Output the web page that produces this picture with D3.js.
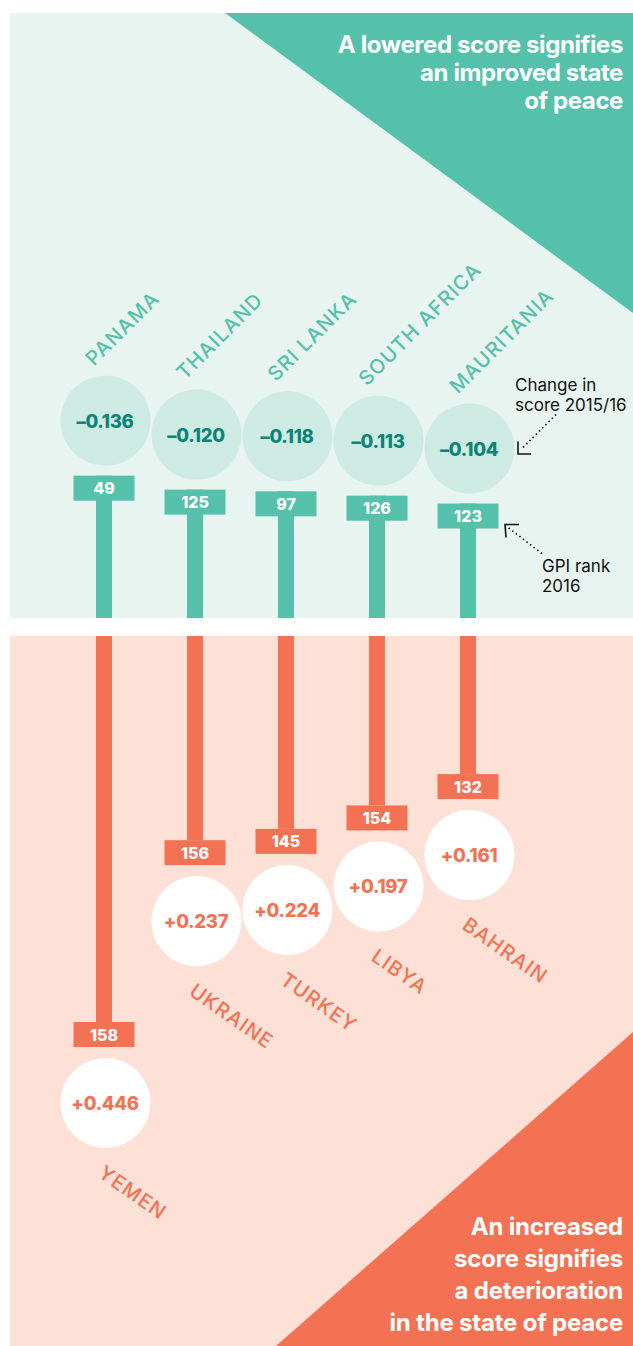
<!DOCTYPE html>
<html>
<head>
<meta charset="utf-8">
<script src="https://cdn.jsdelivr.net/npm/d3@7"></script>
<style>
  body { margin: 0; background: #fff; }
  svg { display: block; }
  text { font-family: Inter, 'Noto Sans', sans-serif; }
</style>
</head>
<body>
<div class="svg-container"></div>
<script>
// countries whose score went down (improved)
const improvedNames = ['PANAMA', 'THAILAND', 'SRI LANKA', 'SOUTH AFRICA', 'MAURITANIA'];
const improvedChange = [-0.136, -0.120, -0.118, -0.113, -0.104];
const improvedRank = [49, 125, 97, 126, 123];

// countries whose score went up (deteriorated)
const worsenedNames = ['YEMEN', 'UKRAINE', 'TURKEY', 'LIBYA', 'BAHRAIN'];
const worsenedChange = [0.446, 0.237, 0.224, 0.197, 0.161];
const worsenedRank = [158, 156, 145, 154, 132];

const topNote = ['A lowered score signifies', 'an improved state', 'of peace'];
const bottomNote = ['An increased', 'score signifies', 'a deterioration', 'in the state of peace'];

function renderPeaceChart() {
  const width = 633;
  const height = 1346;
  const teal = '#55c1aa';
  const mint = '#e7f4ef';
  const orange = '#f37254';
  const peach = '#fde1d6';

  const topPanel = { x: 10, y: 13, bottom: 618 };
  const bottomPanel = { y: 636 };
  const midY = 627;
  const r = 45;
  const boxW = 61;
  const boxH = 25;
  const stemW = 16;

  const x = d3.scalePoint().domain(d3.range(5)).range([104, 468]);
  const dist = d3.scaleLinear().domain([0, 0.5]).range([88, 523]);

  const fmt = (v) => (v < 0 ? '\u2013' : '+') + d3.format('.3f')(Math.abs(v));

  const svg = d3.select('.svg-container')
    .append('svg')
    .attr('width', width)
    .attr('height', height);

  // panels
  svg.append('rect')
    .attr('x', topPanel.x).attr('y', topPanel.y)
    .attr('width', width - topPanel.x).attr('height', topPanel.bottom - topPanel.y)
    .attr('fill', mint);
  svg.append('path')
    .attr('d', `M225,${topPanel.y}L${width},${topPanel.y}L${width},313Z`)
    .attr('fill', teal);

  svg.append('rect')
    .attr('x', topPanel.x).attr('y', bottomPanel.y)
    .attr('width', width - topPanel.x).attr('height', height - bottomPanel.y)
    .attr('fill', peach);
  svg.append('path')
    .attr('d', `M${width},1032L${width},${height}L276,${height}Z`)
    .attr('fill', orange);

  // corner notes
  svg.append('g').selectAll('text')
    .data(topNote).enter().append('text')
    .attr('x', 623).attr('y', (d, i) => 53 + i * 28)
    .attr('text-anchor', 'end')
    .style('font-weight', 700).style('font-size', '24px')
    .style('letter-spacing', '-0.4px')
    .attr('fill', '#fff')
    .text((d) => d);

  svg.append('g').selectAll('text')
    .data(bottomNote).enter().append('text')
    .attr('x', 623).attr('y', (d, i) => 1235 + i * 32)
    .attr('text-anchor', 'end')
    .style('font-weight', 700).style('font-size', '24px')
    .style('letter-spacing', '-0.2px')
    .attr('fill', '#fff')
    .text((d) => d);

  // improved: circles above the middle line
  const improved = improvedNames.map((name, i) => ({
    name, change: improvedChange[i], rank: improvedRank[i], i
  }));
  const up = svg.append('g').selectAll('g')
    .data(improved).enter().append('g');

  up.each(function (d) {
    d.cx = x(d.i);
    d.cy = midY - dist(Math.abs(d.change));
    d.boxY = d.cy + r + 10;
  });

  up.append('rect')
    .attr('x', (d) => d.cx - stemW / 2)
    .attr('y', (d) => d.boxY)
    .attr('width', stemW)
    .attr('height', (d) => topPanel.bottom - d.boxY)
    .attr('fill', teal);
  up.append('rect')
    .attr('x', (d) => d.cx - boxW / 2)
    .attr('y', (d) => d.boxY)
    .attr('width', boxW).attr('height', boxH)
    .attr('fill', teal);
  up.append('text')
    .attr('x', (d) => d.cx).attr('y', (d) => d.boxY + boxH / 2 + 6)
    .attr('text-anchor', 'middle')
    .style('font-weight', 800).style('font-size', '16px')
    .attr('fill', '#fff')
    .text((d) => d.rank);
  up.append('circle')
    .attr('cx', (d) => d.cx + 1.5).attr('cy', (d) => d.cy).attr('r', r)
    .attr('fill', '#cdebe2');
  up.append('text')
    .attr('x', (d) => d.cx + 1).attr('y', (d) => d.cy + 7)
    .attr('text-anchor', 'middle')
    .style('font-weight', 800).style('font-size', '18.5px')
    .style('letter-spacing', '-0.3px')
    .attr('fill', '#0b8477')
    .text((d) => fmt(d.change));
  up.append('text')
    .attr('transform', (d) => `translate(${d.cx - 10},${d.cy - r - 9}) rotate(-45)`)
    .style('font-size', '20px')
    .style('font-weight', 500)
    .style('letter-spacing', '1.2px')
    .attr('fill', teal)
    .text((d) => d.name);

  // worsened: circles below the middle line
  const worsened = worsenedNames.map((name, i) => ({
    name, change: worsenedChange[i], rank: worsenedRank[i], i
  }));
  const down = svg.append('g').selectAll('g')
    .data(worsened).enter().append('g');

  down.each(function (d) {
    d.cx = x(d.i);
    d.cy = midY + dist(d.change);
    d.boxY = d.cy - r - 11 - boxH;
  });

  down.append('rect')
    .attr('x', (d) => d.cx - stemW / 2)
    .attr('y', bottomPanel.y)
    .attr('width', stemW)
    .attr('height', (d) => d.boxY - bottomPanel.y)
    .attr('fill', orange);
  down.append('rect')
    .attr('x', (d) => d.cx - boxW / 2)
    .attr('y', (d) => d.boxY)
    .attr('width', boxW).attr('height', boxH)
    .attr('fill', orange);
  down.append('text')
    .attr('x', (d) => d.cx).attr('y', (d) => d.boxY + boxH / 2 + 6)
    .attr('text-anchor', 'middle')
    .style('font-weight', 800).style('font-size', '16px')
    .attr('fill', '#fff')
    .text((d) => d.rank);
  down.append('circle')
    .attr('cx', (d) => d.cx + 1.5).attr('cy', (d) => d.cy).attr('r', r)
    .attr('fill', '#fff');
  down.append('text')
    .attr('x', (d) => d.cx + 1).attr('y', (d) => d.cy + 7)
    .attr('text-anchor', 'middle')
    .style('font-weight', 800).style('font-size', '18.5px')
    .style('letter-spacing', '-0.3px')
    .attr('fill', orange)
    .text((d) => fmt(d.change));
  down.append('text')
    .attr('transform', (d) => `translate(${d.cx - 7},${d.cy + r + 28}) rotate(35)`)
    .style('font-size', '20px')
    .style('font-weight', 500)
    .style('letter-spacing', '1.2px')
    .attr('fill', orange)
    .text((d) => d.name);

  // key annotations, hung off the last improved country
  const last = improved[improved.length - 1];
  const ann = svg.append('g')
    .style('font-size', '17px')
    .attr('fill', '#111');

  ann.selectAll('text.change')
    .data(['Change in', 'score 2015/16']).enter().append('text')
    .attr('class', 'change')
    .attr('x', last.cx + 47).attr('y', (d, i) => last.cy - 58 + i * 20)
    .text((d) => d);
  ann.selectAll('text.rank')
    .data(['GPI rank', '2016']).enter().append('text')
    .attr('class', 'rank')
    .attr('x', last.cx + 74).attr('y', (d, i) => last.boxY + 68 + i * 20)
    .text((d) => d);

  const dotted = (x1, y1, x2, y2) => ann.append('line')
    .attr('x1', x1).attr('y1', y1).attr('x2', x2).attr('y2', y2)
    .attr('stroke', '#111').attr('stroke-width', 1.6)
    .attr('stroke-dasharray', '1.5,3');
  const corner = (pts) => ann.append('polyline')
    .attr('points', pts.map((p) => p.join(',')).join(' '))
    .attr('fill', 'none').attr('stroke', '#111').attr('stroke-width', 1.6);

  // arrow to circle
  dotted(last.cx + 88, last.cy - 34, last.cx + 53, last.cy + 1);
  corner([[last.cx + 50, last.cy - 7], [last.cx + 50, last.cy + 5.5], [last.cx + 63, last.cy + 5.5]]);
  // arrow to box
  dotted(last.cx + 74, last.boxY + 50, last.cx + 40, last.boxY + 24);
  corner([[last.cx + 51, last.boxY + 21], [last.cx + 37, last.boxY + 21], [last.cx + 38, last.boxY + 34]]);
}

renderPeaceChart();
</script>
</body>
</html>
